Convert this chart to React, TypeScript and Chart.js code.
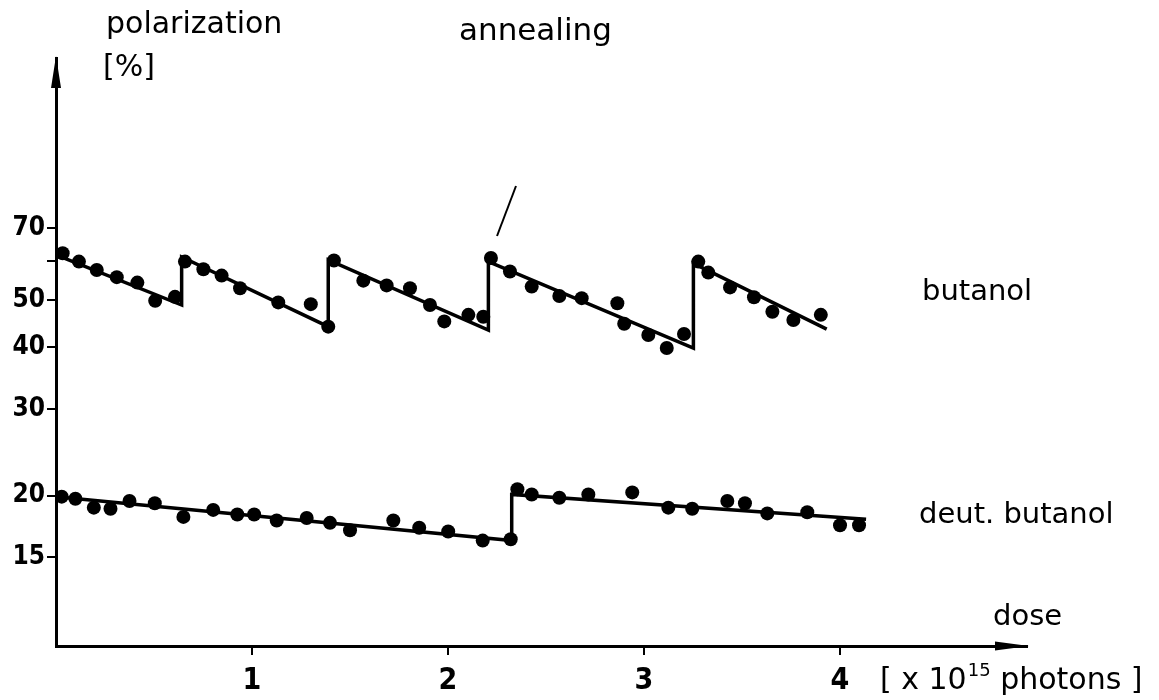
import React, { useEffect, useRef } from 'react';
import { Chart, registerables } from 'chart.js';

Chart.register(...registerables);

// ---- data (dose in 10^15 photons, polarization in %) ----
const butanolDose = [0.034, 0.117, 0.208, 0.31, 0.415, 0.506, 0.607, 0.658, 0.752, 0.845, 0.939, 1.134, 1.3, 1.389, 1.418, 1.568, 1.687, 1.806, 1.908, 1.981, 2.104, 2.18, 2.219, 2.316, 2.427, 2.568, 2.682, 2.864, 2.899, 3.022, 3.116, 3.204, 3.277, 3.328, 3.439, 3.561, 3.655, 3.762, 3.902];
const butanolPol = [62.2, 59.8, 57.5, 55.6, 54.2, 49.8, 50.7, 59.8, 57.7, 56.0, 52.8, 49.4, 49.0, 44.1, 60.1, 54.7, 53.5, 52.8, 48.8, 45.2, 46.6, 46.2, 60.8, 57.1, 53.2, 50.9, 50.4, 49.2, 44.7, 42.4, 39.9, 42.6, 59.8, 56.8, 53.0, 50.6, 47.3, 45.5, 46.6];

const butanolFitDose = [0, 0.641, 0.641, 1.389, 1.389, 2.206, 2.206, 3.252, 3.252, 3.932];
const butanolFitPol = [61.7, 48.8, 61.1, 44.1, 60.3, 43.4, 59.8, 39.9, 59.3, 43.6];

const deutDose = [0.029, 0.099, 0.193, 0.278, 0.375, 0.504, 0.65, 0.802, 0.925, 1.011, 1.126, 1.279, 1.398, 1.5, 1.721, 1.853, 2.001, 2.177, 2.32, 2.354, 2.427, 2.568, 2.716, 2.94, 3.124, 3.246, 3.425, 3.515, 3.629, 3.833, 4.0, 4.097];
const deutPol = [19.9, 19.7, 18.9, 18.8, 19.5, 19.3, 18.1, 18.7, 18.3, 18.3, 17.8, 18.0, 17.6, 17.0, 17.8, 17.2, 16.9, 16.2, 16.3, 20.6, 20.1, 19.8, 20.1, 20.3, 18.9, 18.8, 19.5, 19.3, 18.4, 18.5, 17.4, 17.4];

const deutFitDose = [0, 2.325, 2.325, 4.133];
const deutFitPol = [19.9, 16.2, 20.1, 17.9];

const yTicks = [15, 20, 30, 40, 50, 60, 70];
const yTickLabels = ['15', '20', '30', '40', '50', '', '70'];
const xTicks = [1, 2, 3, 4];
const xTickLabels = ['1', '2', '3', '4'];

const yTitle1 = 'polarization';
const yTitle2 = '[%]';
const xTitle = 'dose';
const xUnitPre = '[ x 10';
const xUnitExp = '15';
const xUnitPost = ' photons ]';
const annealingLabel = 'annealing';
const butanolLabel = 'butanol';
const deutLabel = 'deut. butanol';

const TEXT_FONT = '"DejaVu Sans", sans-serif';

const toPoints = (xs: number[], ys: number[]) => xs.map((x, i) => ({ x, y: ys[i] }));

const annotationPlugin = {
  id: 'annotationsAndArrows',
  afterDraw(chart: any) {
    const { ctx, chartArea } = chart;
    const { left, top, right, bottom } = chartArea;
    ctx.save();
    ctx.fillStyle = '#000';
    ctx.strokeStyle = '#000';
    // y-axis arrow head
    ctx.beginPath();
    ctx.moveTo(left, top - 2);
    ctx.lineTo(left - 5, top + 30);
    ctx.lineTo(left + 5, top + 30);
    ctx.closePath();
    ctx.fill();
    // x-axis arrow head
    ctx.beginPath();
    ctx.moveTo(right + 2, bottom);
    ctx.lineTo(right - 32, bottom - 4.5);
    ctx.lineTo(right - 32, bottom + 4.5);
    ctx.closePath();
    ctx.fill();

    ctx.textAlign = 'left';
    ctx.textBaseline = 'alphabetic';
    ctx.font = `30px ${TEXT_FONT}`;
    ctx.fillText(yTitle1, 106, 33);
    ctx.fillText(yTitle2, 103, 76);
    ctx.font = `31px ${TEXT_FONT}`;
    ctx.fillText(annealingLabel, 459, 40);
    ctx.font = `29px ${TEXT_FONT}`;
    ctx.fillText(butanolLabel, 922, 300);
    ctx.fillText(deutLabel, 919, 523);
    ctx.fillText(xTitle, 993, 625);

    let x = 880;
    ctx.font = `30px ${TEXT_FONT}`;
    ctx.fillText(xUnitPre, x, 689);
    x += ctx.measureText(xUnitPre).width + 1;
    ctx.font = `18px ${TEXT_FONT}`;
    ctx.fillText(xUnitExp, x, 676);
    x += ctx.measureText(xUnitExp).width;
    ctx.font = `30px ${TEXT_FONT}`;
    ctx.fillText(xUnitPost, x, 689);

    // annealing leader line
    ctx.lineWidth = 2;
    ctx.beginPath();
    ctx.moveTo(497, 236);
    ctx.lineTo(516, 186);
    ctx.stroke();
    ctx.restore();
  },
};

export default function App() {
  const canvasRef = useRef<HTMLCanvasElement | null>(null);

  useEffect(() => {
    if (!canvasRef.current) return;
    const chart = new Chart(canvasRef.current, {
      type: 'scatter',
      data: {
        datasets: [
          {
            label: 'butanol fit',
            data: toPoints(butanolFitDose, butanolFitPol),
            showLine: true,
            borderColor: '#000',
            borderWidth: 3.5,
            pointRadius: 0,
            fill: false,
          },
          {
            label: 'deut. butanol fit',
            data: toPoints(deutFitDose, deutFitPol),
            showLine: true,
            borderColor: '#000',
            borderWidth: 3.5,
            pointRadius: 0,
            fill: false,
          },
          {
            label: 'butanol',
            data: toPoints(butanolDose, butanolPol),
            showLine: false,
            pointRadius: 7,
            pointBackgroundColor: '#000',
            pointBorderColor: '#000',
            pointBorderWidth: 0,
          },
          {
            label: 'deut. butanol',
            data: toPoints(deutDose, deutPol),
            showLine: false,
            pointRadius: 7,
            pointBackgroundColor: '#000',
            pointBorderColor: '#000',
            pointBorderWidth: 0,
          },
        ],
      },
      options: {
        animation: false,
        responsive: true,
        maintainAspectRatio: false,
        layout: { padding: { top: 58, right: 132, left: 0, bottom: 0 } },
        plugins: {
          legend: { display: false },
          tooltip: { enabled: false },
        },
        scales: {
          x: {
            type: 'linear',
            min: 0,
            max: 4.954,
            afterBuildTicks: (scale: any) => {
              scale.ticks = xTicks.map((v) => ({ value: v }));
            },
            afterFit: (scale: any) => {
              scale.height = 54;
            },
            ticks: {
              autoSkip: false,
              maxRotation: 0,
              padding: 8,
              color: '#000',
              font: { family: '"Liberation Sans Narrow", "DejaVu Sans Condensed", sans-serif', size: 30, weight: 'bold' },
              callback: (_v: any, i: number) => xTickLabels[i],
            },
            grid: {
              drawOnChartArea: false,
              drawTicks: true,
              tickLength: 9,
              color: '#000',
              lineWidth: 2,
            },
            border: { display: true, color: '#000', width: 3 },
          },
          y: {
            type: 'logarithmic',
            min: 9.89,
            max: 155.1,
            afterBuildTicks: (scale: any) => {
              scale.ticks = yTicks.map((v) => ({ value: v }));
            },
            afterFit: (scale: any) => {
              scale.width = 56;
            },
            ticks: {
              autoSkip: false,
              padding: 2,
              color: '#000',
              font: { family: '"DejaVu Sans Condensed", sans-serif', size: 26, weight: 'bold' },
              callback: (_v: any, i: number) => yTickLabels[i],
            },
            grid: {
              drawOnChartArea: false,
              drawTicks: true,
              tickLength: 9,
              color: '#000',
              lineWidth: 2,
            },
            border: { display: true, color: '#000', width: 3 },
          },
        },
      },
      plugins: [annotationPlugin],
    });
    return () => chart.destroy();
  }, []);

  return (
    <div style={{ position: 'fixed', left: 0, top: 0, width: 1159, height: 700, background: '#fff' }}>
      <canvas ref={canvasRef} />
    </div>
  );
}
